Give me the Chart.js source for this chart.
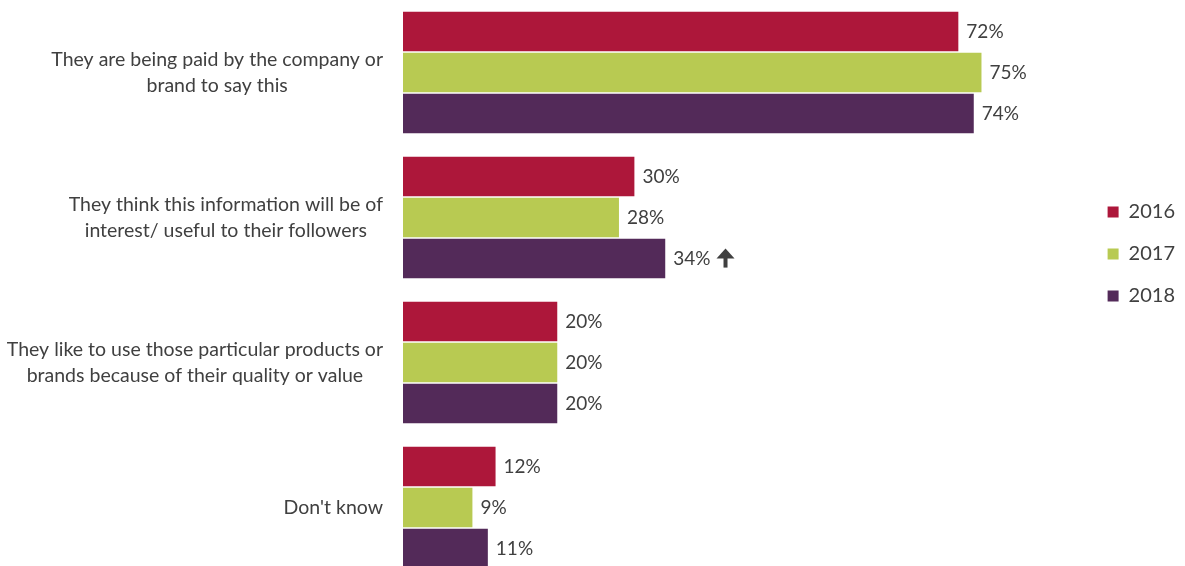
<!DOCTYPE html>
<html lang="en">
<head>
    <meta charset="UTF-8">
    <title>Reasons influencers recommend products</title>
    <script src="https://cdn.jsdelivr.net/npm/chart.js"></script>
    <style>
        html, body {
            margin: 0;
            padding: 0;
            background: #fff;
            overflow: hidden;
        }

        /* the original picture is cut off at the bottom, so the chart runs a bit past the window */
        #chart-container {
            width: 1185px;
            height: 580px;
        }
    </style>
</head>
<body>
    <div id="chart-container">
        <canvas id="reasonsChart"></canvas>
    </div>

    <script>
        // category labels, already split into the lines shown
        const categories = [
            ['They are being paid by the company or', 'brand to say this'],
            ['They think this information will be of', 'interest/ useful to their followers'],
            ['They like to use those particular products or', 'brands because of their quality or value'],
            ["Don't know"]
        ];
        const years = ['2016', '2017', '2018'];
        const values2016 = [72, 30, 20, 12];
        const values2017 = [75, 28, 20, 9];
        const values2018 = [74, 34, 20, 11];
        // significant increase marker (arrow) for 2018
        const up2018 = [false, true, false, false];
        const xMax = 88.5;

        const colors = ['#ad173a', '#b8ca52', '#532a59'];
        const textColor = '#404040';
        const fontFamily = 'Lato, "Open Sans", sans-serif';

        function drawUpArrow(ctx, x, y) {
            ctx.save();
            ctx.fillStyle = textColor;
            ctx.beginPath();
            ctx.moveTo(x + 9, y - 10);
            ctx.lineTo(x + 18, y);
            ctx.lineTo(x, y);
            ctx.closePath();
            ctx.fill();
            ctx.fillRect(x + 7, y - 1, 4, 10);
            ctx.restore();
        }

        const categoryLabels = {
            id: 'categoryLabels',
            afterDraw(chart) {
                const ctx = chart.ctx;
                const yScale = chart.scales.y;
                const right = chart.chartArea.left - 20;
                ctx.save();
                ctx.font = '19.5px ' + fontFamily;
                ctx.fillStyle = textColor;
                ctx.textAlign = 'center';
                ctx.textBaseline = 'middle';
                categories.forEach((lines, i) => {
                    const yc = yScale.getPixelForValue(i);
                    const widest = Math.max(...lines.map(l => ctx.measureText(l).width));
                    const cx = right - widest / 2;
                    lines.forEach((line, j) => {
                        ctx.fillText(line, cx, yc + (j - (lines.length - 1) / 2) * 26);
                    });
                });
                ctx.restore();
            }
        };

        const valueLabels = {
            id: 'valueLabels',
            afterDatasetsDraw(chart) {
                const ctx = chart.ctx;
                ctx.save();
                ctx.font = '19px ' + fontFamily;
                ctx.fillStyle = textColor;
                ctx.textAlign = 'left';
                ctx.textBaseline = 'middle';
                chart.data.datasets.forEach((ds, di) => {
                    const meta = chart.getDatasetMeta(di);
                    meta.data.forEach((bar, i) => {
                        const text = ds.data[i] + '%';
                        const x = bar.x + 8;
                        ctx.fillText(text, x, bar.y);
                        if (ds.up && ds.up[i]) {
                            drawUpArrow(ctx, x + ctx.measureText(text).width + 6, bar.y);
                        }
                    });
                });
                ctx.restore();
            }
        };

        const ctx = document.getElementById('reasonsChart').getContext('2d');

        new Chart(ctx, {
            type: 'bar',
            data: {
                labels: categories.map(l => l.join(' ')),
                datasets: [
                    { label: years[0], data: values2016, backgroundColor: colors[0] },
                    { label: years[1], data: values2017, backgroundColor: colors[1] },
                    { label: years[2], data: values2018, backgroundColor: colors[2], up: up2018 }
                ]
            },
            options: {
                indexAxis: 'y',
                responsive: true,
                maintainAspectRatio: false,
                animation: false,
                datasets: {
                    bar: {
                        categoryPercentage: 0.85,
                        barPercentage: 0.96
                    }
                },
                layout: {
                    padding: { left: 403, top: 0, right: 0, bottom: 0 }
                },
                scales: {
                    x: { display: false, min: 0, max: xMax },
                    y: { display: false }
                },
                plugins: {
                    tooltip: { enabled: false },
                    legend: {
                        position: 'right',
                        align: 'start',
                        title: {
                            display: true,
                            text: '',
                            font: { size: 1, lineHeight: 1 },
                            padding: { top: 179, bottom: 0 }
                        },
                        labels: {
                            boxWidth: 11,
                            boxHeight: 11,
                            padding: 22,
                            color: textColor,
                            font: { family: fontFamily, size: 20 }
                        }
                    }
                }
            },
            plugins: [categoryLabels, valueLabels]
        });
    </script>
</body>
</html>
